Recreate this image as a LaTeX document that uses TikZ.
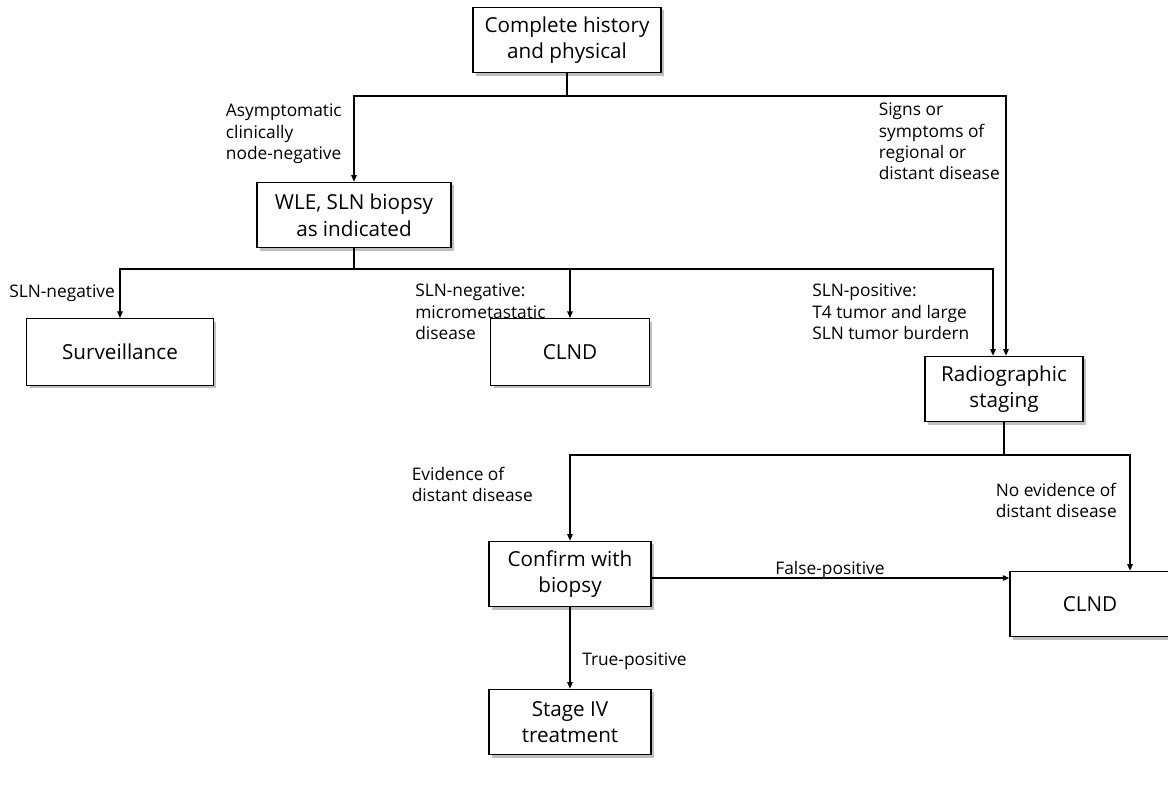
\documentclass[tikz,border=0pt]{standalone}
\usepackage{fontspec}
\setmainfont{Open Sans}
\usetikzlibrary{arrows.meta,shadows}

\tikzset{
  caja/.style={draw, fill=white, line width=0.8pt, align=center,
    minimum height=49pt, inner sep=2pt,
    font=\fontsize{15.5}{20}\selectfont,
    drop shadow={shadow xshift=2.2pt, shadow yshift=-2.2pt, opacity=0.5}},
  etiq/.style={align=left, inner sep=0pt, anchor=north west,
    font=\fontsize{13}{16}\selectfont},
  linea/.style={line width=1.1pt},
  flecha/.style={line width=1.1pt, -{Triangle[length=5pt,width=4pt]}}
}

\begin{document}
\begin{tikzpicture}[x=0.75pt, y=-0.75pt]
  \useasboundingbox (0,0) rectangle (1168,786);

  % Cajas
  \node[caja, minimum width=141pt] (hist) at (567,40) {Complete history\\and physical};
  \node[caja, minimum width=145.5pt] (wle) at (354,215) {WLE, SLN biopsy\\as indicated};
  \node[caja, minimum width=140pt, minimum height=50pt] (surv) at (120,352) {Surveillance};
  \node[caja, minimum width=119pt, minimum height=50pt] (clndA) at (570,352) {CLND};
  \node[caja, minimum width=118.5pt] (rad) at (1004,389) {Radiographic\\staging};
  \node[caja, minimum width=121.5pt] (conf) at (570,574) {Confirm with\\biopsy};
  \node[caja, minimum width=120pt] (clndB) at (1090,604) {CLND};
  \node[caja, minimum width=121.5pt] (stage) at (570,722) {Stage IV\\treatment};

  % Puntos de bifurcacion
  \coordinate (j1) at (567,96);
  \coordinate (r1) at (1006,96);
  \coordinate (j2) at (354,269);
  \coordinate (r2) at (993,269);
  \coordinate (j3) at (1004,455);
  \coordinate (r3) at (1130,455);

  % Conectores
  \draw[linea] (hist) -- (j1);
  \draw[flecha] (j1) -| (wle.north);
  \draw[flecha] (j1) -- (r1) -- (r1 |- rad.north);

  \draw[linea] (wle) -- (j2);
  \draw[flecha] (j2) -| (surv.north);
  \draw[flecha] (j2) -| (clndA.north);
  \draw[flecha] (j2) -- (r2) -- (r2 |- rad.north);

  \draw[linea] (rad) -- (j3);
  \draw[flecha] (j3) -| (conf.north);
  \draw[flecha] (j3) -- (r3) -- (r3 |- clndB.north);

  \draw[flecha] ([yshift=-3pt]conf.east) -- ([yshift=-3pt]conf.east -| clndB.west);
  \draw[flecha] (conf) -- (stage);

  % Etiquetas
  \node[etiq, anchor=north east] (asym) at (342,104) {Asymptomatic\\clinically\\node-negative};
  \node[etiq, anchor=north east] (signs) at (1000,103) {Signs or\\symptoms of\\regional or\\distant disease};
  \node[etiq] (slnneg) at (9,285) {SLN-negative};
  \node[etiq] (micro) at (415,284) {SLN-negative:\\micrometastatic\\disease};
  \node[etiq] (slnpos) at (812,284) {SLN-positive:\\T4 tumor and large\\SLN tumor burdern};
  \node[etiq, anchor=north east] (evid) at (533,467) {Evidence of\\distant disease};
  \node[etiq, anchor=north east] (noevid) at (1117,483) {No evidence of\\distant disease};
  \node[etiq, anchor=north] (falsepos) at (830,561) {False-positive};
  \node[etiq] (truepos) at (582,653) {True-positive};
\end{tikzpicture}
\end{document}
